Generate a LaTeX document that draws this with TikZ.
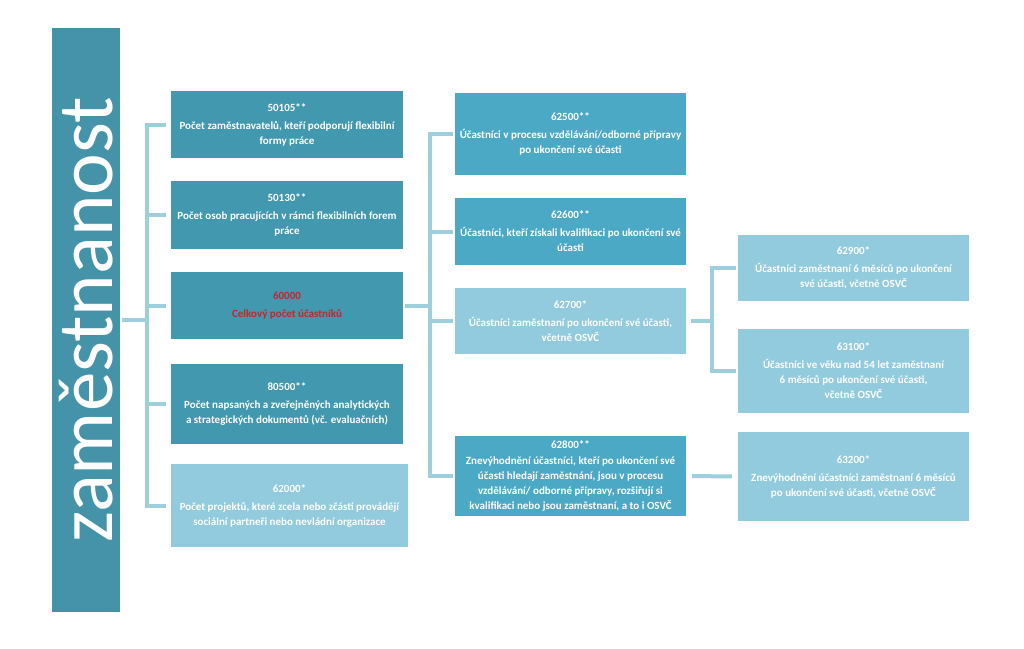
\documentclass[tikz,border=0pt]{standalone}
\usepackage{fontspec}
\setmainfont{Carlito}
\definecolor{barteal}{HTML}{4493A9}
\definecolor{boxteal}{HTML}{4298AE}
\definecolor{boxblue}{HTML}{4BA9C6}
\definecolor{boxpale}{HTML}{92CBDD}
\definecolor{linkpale}{HTML}{9DCFDD}
\definecolor{totalred}{HTML}{C0282D}
\begin{document}
\begin{tikzpicture}[x=1pt, y=-1pt,
  card/.style={rectangle, inner sep=2pt, align=center, text=white, font=\fontsize{11}{15}\selectfont\bfseries},
  tealcard/.style={card, fill=boxteal},
  bluecard/.style={card, fill=boxblue},
  palecard/.style={card, fill=boxpale},
  link/.style={draw=linkpale, line width=4pt}]
\useasboundingbox[fill=white] (0,0) rectangle (1024,648);
\node[fill=barteal, minimum width=68pt, minimum height=584pt, inner sep=0pt] (bar) at (86,320) {};
\node[rotate=90, text=white, font=\fontsize{79}{79}\selectfont] (bartext) at (bar.center) {zaměstnanost};
% first column
\node[tealcard, minimum width=232pt, minimum height=67pt] (employers) at (287,124.5) {50105**\\[3pt]Počet zaměstnavatelů, kteří podporují flexibilní\\formy práce};
\node[tealcard, minimum width=232pt, minimum height=68pt] (flexible) at (287,215) {50130**\\[3pt]Počet osob pracujících v rámci flexibilních forem\\práce};
\node[tealcard, minimum width=232pt, minimum height=67pt, text=totalred] (total) at (287,305.5) {60000\\[3pt]Celkový počet účastníků};
\node[tealcard, minimum width=232pt, minimum height=80pt] (documents) at (287,404) {80500**\\[3pt]Počet napsaných a zveřejněných analytických\\a strategických dokumentů (vč. evaluačních)};
\node[palecard, minimum width=237pt, minimum height=83pt] (projects) at (289.5,505.5) {62000*\\[3pt]Počet projektů, které zcela nebo zčásti provádějí\\sociální partneři nebo nevládní organizace};
% second column
\node[bluecard, minimum width=231pt, minimum height=82pt] (training) at (570.5,134) {62500**\\[3pt]Účastníci v procesu vzdělávání/odborné přípravy\\po ukončení své účasti};
\node[bluecard, minimum width=231pt, minimum height=67pt] (qualified) at (570.5,231.5) {62600**\\[3pt]Účastníci, kteří získali kvalifikaci po ukončení své\\účasti};
\node[palecard, minimum width=231pt, minimum height=66pt] (employed) at (570.5,321) {62700*\\[3pt]Účastníci zaměstnaní po ukončení své účasti,\\včetně OSVČ};
\node[bluecard, minimum width=231pt, minimum height=80pt, inner sep=1pt] (disadvantaged) at (570.5,476) {62800**\\[1pt]Znevýhodnění účastníci, kteří po ukončení své\\účasti hledají zaměstnání, jsou v procesu\\vzdělávání/ odborné přípravy, rozšiřují si\\kvalifikaci nebo jsou zaměstnaní, a to i OSVČ};
% third column
\node[palecard, minimum width=231pt, minimum height=66pt] (sixmonths) at (853.5,268) {62900*\\[3pt]Účastníci zaměstnaní 6 měsíců po ukončení\\své účasti, včetně OSVČ};
\node[palecard, minimum width=231pt, minimum height=84pt] (older) at (853.5,371) {63100*\\[3pt]Účastníci ve věku nad 54 let zaměstnaní\\6 měsíců po ukončení své účasti,\\včetně OSVČ};
\node[palecard, minimum width=231pt, minimum height=89pt] (disadvsix) at (853.5,476.5) {63200*\\[3pt]Znevýhodnění účastníci zaměstnaní 6 měsíců\\po ukončení své účasti, včetně OSVČ};
% brackets
\coordinate (leftspine) at (147,320);
\coordinate (midspine) at (430,305.5);
\coordinate (rightspine) at (712,321);
\draw[link] (bar.east) ++(2,0) -- (leftspine);
\foreach \target in {employers, flexible, total, documents, projects}
  \draw[link, shorten >=5pt] (leftspine) |- (\target.west);
\draw[link, shorten <=2pt] (total.east) -- (midspine);
\foreach \target in {training, qualified, employed, disadvantaged}
  \draw[link, shorten >=2pt] (midspine) |- (\target.west);
\draw[link, shorten <=5pt] (employed.east) -- (rightspine);
\foreach \target in {sixmonths, older}
  \draw[link, shorten >=2pt] (rightspine) |- (\target.west);
\draw[link, shorten <=6pt, shorten >=6pt] (disadvantaged.east) -- (disadvsix.west);
\end{tikzpicture}
\end{document}
